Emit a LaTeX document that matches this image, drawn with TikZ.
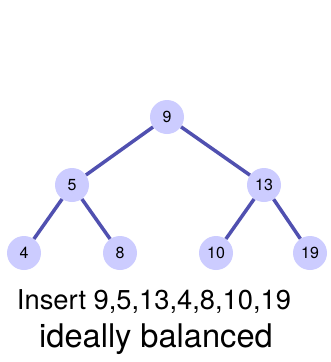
\documentclass[tikz,border=0pt]{standalone}
\usepackage{fontspec}
\setmainfont{TeX Gyre Heros}
\definecolor{nodefill}{HTML}{CCCCFF}
\definecolor{edgeblue}{HTML}{5050B0}
\tikzset{
  key/.style={circle, fill=nodefill, minimum size=34pt, inner sep=0pt,
    font=\fontsize{16}{18}\selectfont},
  link/.style={edgeblue, line width=3.5pt}
}
\begin{document}
\begin{tikzpicture}[x=1pt, y=-1pt]
  \useasboundingbox (0,0) rectangle (330,362);

  % keys of the tree
  \node [key] (n9)  at (167,117) {9};
  \node [key] (n5)  at (72,185)  {5};
  \node [key] (n13) at (264,185) {13};
  \node [key] (n4)  at (24,253)  {4};
  \node [key] (n8)  at (120,253) {8};
  \node [key] (n10) at (216,253) {10};
  \node [key] (n19) at (310,253) {19};

  % links between parent and child
  \draw [link] (n9) -- (n5);
  \draw [link] (n9) -- (n13);
  \draw [link] (n5) -- (n4);
  \draw [link] (n5) -- (n8);
  \draw [link] (n13) -- (n10);
  \draw [link] (n13) -- (n19);

  \node [font=\fontsize{27.3}{30}\selectfont] (caption) at (154,302)
    {Insert 9,5,13,4,8,10,19};
  \node [font=\fontsize{32.6}{36}\selectfont] (subcaption) at (156,339)
    {ideally balanced};
\end{tikzpicture}
\end{document}
